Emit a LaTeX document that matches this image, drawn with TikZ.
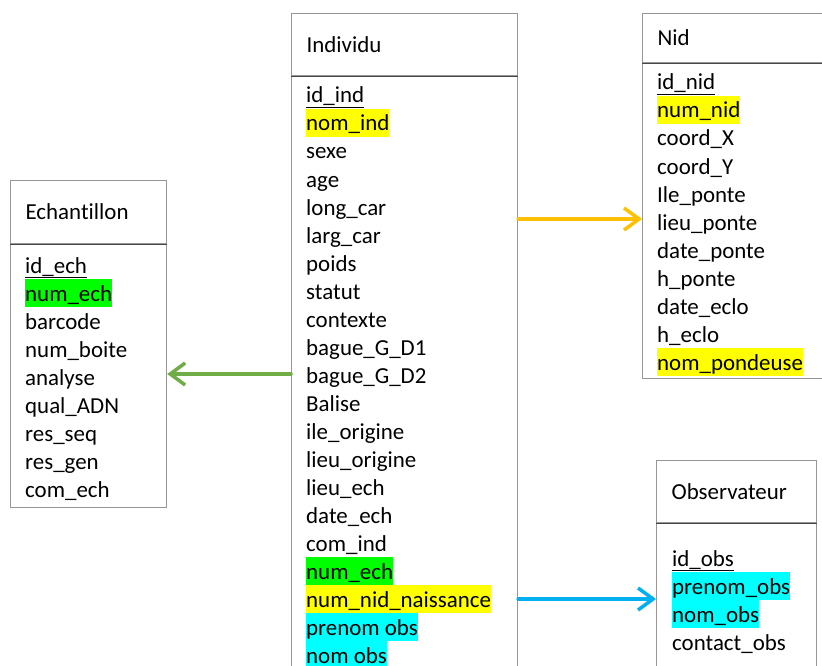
\documentclass[tikz,border=0pt]{standalone}
\usepackage{fontspec}
\setmainfont{Carlito}[Ligatures=NoCommon]
\usetikzlibrary{arrows.meta}
\definecolor{boxgray}{RGB}{150,150,150}
\definecolor{sepgray}{RGB}{70,70,70}
\definecolor{hlyellow}{RGB}{255,255,0}
\definecolor{hlgreen}{RGB}{0,255,0}
\definecolor{hlcyan}{RGB}{0,255,255}
\definecolor{linkorange}{RGB}{255,192,0}
\definecolor{linkgreen}{RGB}{112,173,71}
\definecolor{linkblue}{RGB}{0,176,240}
\tikzset{
  hdr/.style= {draw=boxgray, line width=1.2bp, anchor=north west, inner xsep=15bp, align=left},
  body/.style= {draw=boxgray, line width=1.2bp, anchor=north west},
  sepline/.style= {draw=sepgray, line width=1.2bp},
  attr/.style= {anchor=base west, inner sep=0, text height=22bp, text depth=6bp, yshift=-2bp},
  yel/.style= {fill=hlyellow},
  grn/.style= {fill=hlgreen},
  cya/.style= {fill=hlcyan},
  link/.style= {line width=3.5bp, line cap=round, line join=round, -{Straight Barb[length=15bp, width=22bp]}},
}

\begin{document}
\begin{tikzpicture}[x=1bp, y=-1bp, font=\fontsize{23}{28}\selectfont]
  \useasboundingbox (0,0) rectangle (822,666) ;
  \clip (0,0) rectangle (822,666) ;

  % Echantillon
  \node [hdr, minimum width=156bp, minimum height=63bp, text width=126bp] (echH) at (10,180) {Echantillon} ;
  \node [body, minimum width=156bp, minimum height=263bp] (ech) at (echH.south west) {} ;
  \draw [sepline] (echH.south west) -- (echH.south east) ;
  \node [attr] (idEch) at (25,271) {\underline{id\_ech}} ;
  \node [attr, grn] (numEch) at (25,299) {num\_ech} ;
  \node [attr] (barcode) at (25,327) {barcode} ;
  \node [attr] (numBoite) at (25,355) {num\_boite} ;
  \node [attr] (analyse) at (25,383) {analyse} ;
  \node [attr] (qualAdn) at (25,411) {qual\_ADN} ;
  \node [attr] (resSeq) at (25,439) {res\_seq} ;
  \node [attr] (resGen) at (25,467) {res\_gen} ;
  \node [attr] (comEch) at (25,495) {com\_ech} ;

  % Individu
  \node [hdr, minimum width=226bp, minimum height=62bp, text width=196bp] (indH) at (291,13) {Individu} ;
  \node [body, minimum width=226bp, minimum height=660bp] (ind) at (indH.south west) {} ;
  \draw [sepline] (indH.south west) -- (indH.south east) ;
  \node [attr] (idInd) at (306,101) {\underline{id\_ind}} ;
  \node [attr, yel] (nomInd) at (306,129) {nom\_ind} ;
  \node [attr] (sexe) at (306,157) {sexe} ;
  \node [attr] (age) at (306,185) {age} ;
  \node [attr] (longCar) at (306,213) {long\_car} ;
  \node [attr] (largCar) at (306,241) {larg\_car} ;
  \node [attr] (poids) at (306,269) {poids} ;
  \node [attr] (statut) at (306,297) {statut} ;
  \node [attr] (contexte) at (306,325) {contexte} ;
  \node [attr] (bagueA) at (306,353) {bague\_G\_D1} ;
  \node [attr] (bagueB) at (306,381) {bague\_G\_D2} ;
  \node [attr] (balise) at (306,409) {Balise} ;
  \node [attr] (ileOrig) at (306,437) {ile\_origine} ;
  \node [attr] (lieuOrig) at (306,465) {lieu\_origine} ;
  \node [attr] (lieuEch) at (306,493) {lieu\_ech} ;
  \node [attr] (dateEch) at (306,521) {date\_ech} ;
  \node [attr] (comInd) at (306,549) {com\_ind} ;
  \node [attr, grn] (indNumEch) at (306,577) {num\_ech} ;
  \node [attr, yel] (numNidN) at (306,605) {num\_nid\_naissance} ;
  \node [attr, cya] (indPrenom) at (306,633) {prenom obs} ;
  \node [attr, cya] (indNom) at (306,661) {nom obs} ;

  % Nid
  \node [hdr, minimum width=200bp, minimum height=49bp, text width=170bp] (nidH) at (642,13) {Nid} ;
  \node [body, minimum width=200bp, minimum height=315bp] (nid) at (nidH.south west) {} ;
  \draw [sepline] (nidH.south west) -- (nidH.south east) ;
  \node [attr] (idNid) at (657,88) {\underline{id\_nid}} ;
  \node [attr, yel] (numNid) at (657,116) {num\_nid} ;
  \node [attr] (coordX) at (657,144) {coord\_X} ;
  \node [attr] (coordY) at (657,172) {coord\_Y} ;
  \node [attr] (ilePonte) at (657,200) {Ile\_ponte} ;
  \node [attr] (lieuPonte) at (657,228) {lieu\_ponte} ;
  \node [attr] (datePonte) at (657,256) {date\_ponte} ;
  \node [attr] (hPonte) at (657,284) {h\_ponte} ;
  \node [attr] (dateEclo) at (657,312) {date\_eclo} ;
  \node [attr] (hEclo) at (657,340) {h\_eclo} ;
  \node [attr, yel] (nomPond) at (657,368) {nom\_pondeuse} ;

  % Observateur
  \node [hdr, minimum width=160bp, minimum height=62bp, text width=130bp] (obsH) at (656,460) {Observateur} ;
  \node [body, minimum width=160bp, minimum height=200bp] (obs) at (obsH.south west) {} ;
  \draw [sepline] (obsH.south west) -- (obsH.south east) ;
  \node [attr] (idObs) at (672,564) {\underline{id\_obs}} ;
  \node [attr, cya] (prenomObs) at (672,592) {prenom\_obs} ;
  \node [attr, cya] (nomObs) at (672,620) {nom\_obs} ;
  \node [attr] (contactObs) at (672,648) {contact\_obs} ;

  % liens
  \coordinate (yNid) at (0,219) ;
  \coordinate (yEch) at (0,374) ;
  \coordinate (yObs) at (0,599) ;
  \draw [link, linkorange] (ind.east |- yNid) -- (nid.west |- yNid) ;
  \draw [link, linkgreen] (ind.west |- yEch) -- (ech.east |- yEch) ;
  \draw [link, linkblue] (ind.east |- yObs) -- (obs.west |- yObs) ;
\end{tikzpicture}
\end{document}
